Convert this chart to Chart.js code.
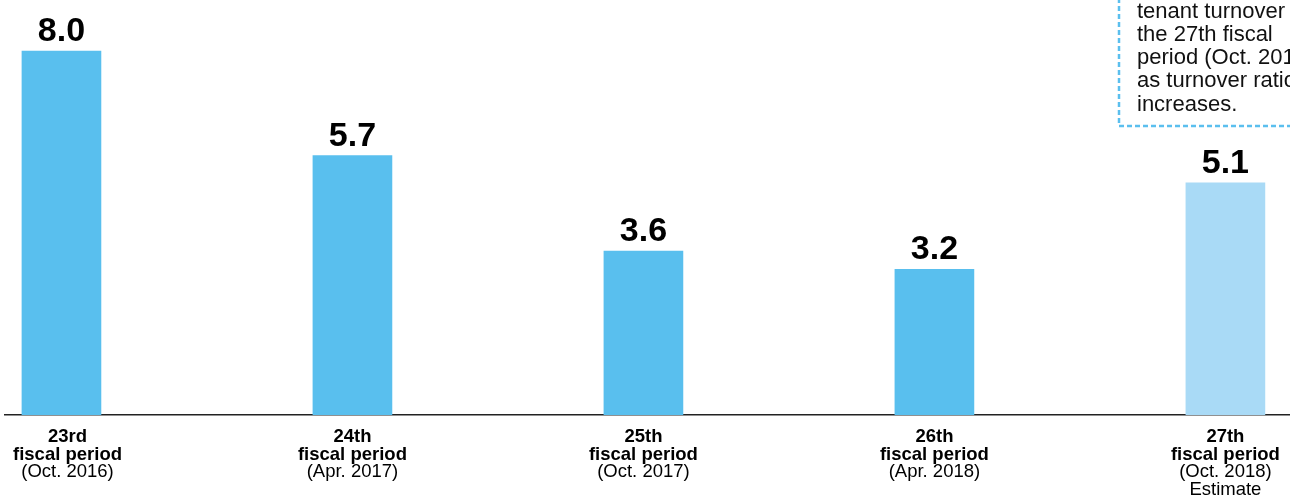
<!DOCTYPE html>
<html>
<head>
<meta charset="utf-8">
<script src="https://cdn.jsdelivr.net/npm/chart.js@4"></script>
<style>
  html, body { margin: 0; padding: 0; background: #fff; overflow: hidden; }
  #wrap { position: relative; width: 1290px; height: 500px; }
</style>
</head>
<body>
<div id="wrap"><canvas id="chart"></canvas></div>
<script>
// tenant turnover per fiscal period
const periodNames = ['23rd', '24th', '25th', '26th', '27th'];
const periodDates = ['(Oct. 2016)', '(Apr. 2017)', '(Oct. 2017)', '(Apr. 2018)', '(Oct. 2018)'];
const periodNotes = ['', '', '', '', 'Estimate'];
const turnover = [8.0, 5.7, 3.6, 3.2, 5.1];
const noteLines = [
  'tenant turnover in',
  'the 27th fiscal',
  'period (Oct. 2018)',
  'as turnover ratio',
  'increases.'
];

const FONT = "'Liberation Sans', Arial, Helvetica, sans-serif";
const BLUE = '#59bfee';
const BLUE_LIGHT = '#a9daf6';

const valueLabels = {
  id: 'valueLabels',
  afterDatasetsDraw(chart) {
    const ctx = chart.ctx;
    const meta = chart.getDatasetMeta(0);
    ctx.save();
    ctx.fillStyle = '#000';
    ctx.font = 'bold 34px ' + FONT;
    ctx.textAlign = 'center';
    ctx.textBaseline = 'alphabetic';
    meta.data.forEach((bar, i) => {
      ctx.fillText(turnover[i].toFixed(1), bar.x, bar.y - 10);
    });
    ctx.restore();
  }
};

// category labels under the axis (two bold lines, then regular ones)
const periodLabels = {
  id: 'periodLabels',
  afterDraw(chart) {
    const ctx = chart.ctx;
    const xs = chart.scales.x;
    const base = chart.chartArea.bottom;
    ctx.save();
    ctx.fillStyle = '#000';
    ctx.textAlign = 'center';
    periodNames.forEach((name, i) => {
      const lines = [
        [name, 'bold'],
        ['fiscal period', 'bold'],
        [periodDates[i], 'normal']
      ];
      if (periodNotes[i]) lines.push([periodNotes[i], 'normal']);
      ctx.font = 'bold 18.5px ' + FONT;
      const half = ctx.measureText('fiscal period').width / 2;
      const x = Math.max(xs.getPixelForValue(i), half + 13);
      lines.forEach((ln, j) => {
        ctx.font = ln[1] + ' 18.5px ' + FONT;
        ctx.fillText(ln[0], x, base + 27 + j * 17.5);
      });
    });
    ctx.restore();
  }
};

// dashed note box in the top right corner
const noteBox = {
  id: 'noteBox',
  afterDraw(chart) {
    const ctx = chart.ctx;
    ctx.save();
    ctx.strokeStyle = '#5bbfee';
    ctx.lineWidth = 2.5;
    ctx.setLineDash([5, 3]);
    ctx.beginPath();
    ctx.moveTo(1119, -10);
    ctx.lineTo(1119, 126);
    ctx.lineTo(1300, 126);
    ctx.stroke();
    ctx.setLineDash([]);
    ctx.fillStyle = '#111';
    ctx.font = '22px ' + FONT;
    ctx.textAlign = 'left';
    noteLines.forEach((t, i) => {
      ctx.fillText(t, 1137, 17.5 + i * 23.3);
    });
    ctx.restore();
  }
};

const canvas = document.getElementById('chart');
canvas.width = 1290;
canvas.height = 500;

new Chart(canvas, {
  type: 'bar',
  data: {
    datasets: [{
      data: turnover.map((v, i) => ({ x: i, y: v })),
      backgroundColor: turnover.map((v, i) => i === turnover.length - 1 ? BLUE_LIGHT : BLUE),
      barThickness: 79,
      borderWidth: 0
    }]
  },
  options: {
    responsive: false,
    animation: false,
    layout: { padding: { left: 5, right: 0, top: 0, bottom: 0 } },
    plugins: {
      legend: { display: false },
      tooltip: { enabled: false },
      title: { display: false }
    },
    scales: {
      x: {
        type: 'linear',
        offset: false,
        min: -0.194,
        max: 4.222,
        grid: { display: false, drawTicks: false, offset: false },
        border: { display: true, color: '#222', width: 1.5 },
        ticks: { display: false },
        afterBuildTicks: (scale) => {
          scale.ticks = periodNames.map((_, i) => ({ value: i }));
        },
        afterFit: (scale) => { scale.height = 85; }
      },
      y: {
        display: false,
        min: 0,
        max: 9.12
      }
    }
  },
  plugins: [valueLabels, periodLabels, noteBox]
});
</script>
</body>
</html>
